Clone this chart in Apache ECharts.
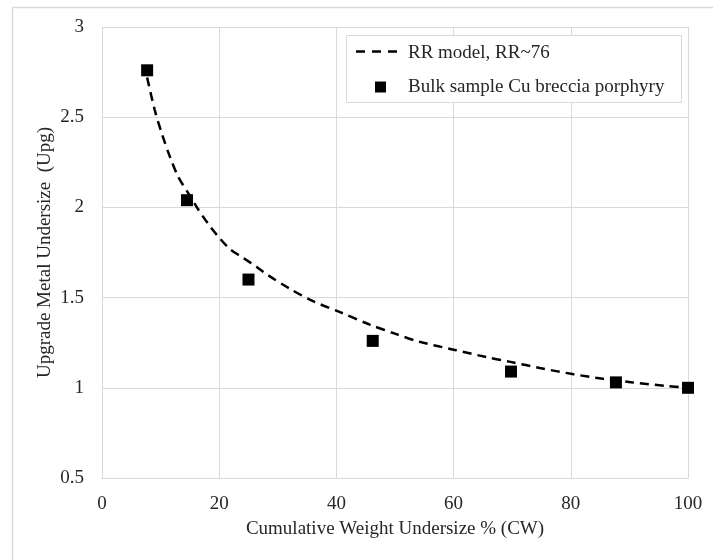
<!DOCTYPE html>
<html>
<head>
<meta charset="utf-8">
<script src="https://cdn.jsdelivr.net/npm/echarts@6/dist/echarts.min.js"></script>
<style>html,body{margin:0;padding:0;background:#fff;}#c{width:713px;height:560px;}</style>
</head>
<body>
<div id="c"></div>
<script>
// Bulk sample data
const sampleCW = [7.7, 14.5, 25.0, 46.2, 69.8, 87.7, 100];
const sampleUpg = [2.76, 2.04, 1.60, 1.26, 1.09, 1.03, 1.0];
// RR model curve
const modelCW = [7.7, 9, 10.2, 11.6, 13, 14.7, 16.4, 18.1, 19.8, 21.8, 24.1, 26.4, 28.3, 32, 36, 40.6, 45.7, 50, 54.2, 60.2, 65.6, 69.5, 74.7, 80.3, 85.5, 90.6, 96.2, 100];
const modelUpg = [2.72, 2.54, 2.41, 2.28, 2.17, 2.08, 1.99, 1.91, 1.84, 1.77, 1.72, 1.67, 1.625, 1.55, 1.48, 1.42, 1.35, 1.30, 1.255, 1.21, 1.17, 1.145, 1.11, 1.076, 1.05, 1.03, 1.01, 1.0];
const xTicks = [0, 20, 40, 60, 80, 100];
const yTicks = [0.5, 1, 1.5, 2, 2.5, 3];
const seriesNames = ['RR model, RR~76', 'Bulk sample Cu breccia porphyry'];
const axisTitles = ['Cumulative Weight Undersize % (CW)', 'Upgrade Metal Undersize  (Upg)'];

const font = '"Liberation Serif", "Times New Roman", serif';
const txt = '#262626';
const chart = echarts.init(document.getElementById('c'), null, {renderer: 'canvas'});
chart.setOption({
  animation: false,
  backgroundColor: '#fff',
  grid: {left: 102, right: 25, top: 27, bottom: 82, containLabel: false},
  xAxis: {
    type: 'value', min: xTicks[0], max: xTicks[xTicks.length - 1], interval: 20,
    name: axisTitles[0], nameLocation: 'middle', nameGap: 42, nameMoveOverlap: false,
    nameTextStyle: {fontFamily: font, fontSize: 19, color: txt},
    axisLine: {show: true, lineStyle: {color: '#d9d9d9', width: 1}},
    axisTick: {show: false},
    axisLabel: {fontFamily: font, fontSize: 19, color: txt, margin: 17},
    splitLine: {show: true, lineStyle: {color: '#d9d9d9', width: 1}}
  },
  yAxis: {
    type: 'value', min: yTicks[0], max: yTicks[yTicks.length - 1], interval: 0.5,
    name: axisTitles[1], nameLocation: 'middle', nameGap: 47, nameMoveOverlap: false,
    nameTextStyle: {fontFamily: font, fontSize: 19, color: txt},
    axisLine: {show: true, lineStyle: {color: '#d9d9d9', width: 1}},
    axisTick: {show: false},
    axisLabel: {fontFamily: font, fontSize: 19, color: txt, margin: 18},
    splitLine: {show: true, lineStyle: {color: '#d9d9d9', width: 1}}
  },
  graphic: [
    {type: 'polyline', silent: true, shape: {points: [[12.5, 600], [12.5, 7.5], [720, 7.5]]}, style: {stroke: '#d9d9d9', lineWidth: 1.5, fill: null}, z: 0},
    {type: 'rect', shape: {x: 346.5, y: 35.5, width: 335, height: 67}, style: {fill: '#fff', stroke: '#d9d9d9', lineWidth: 1}, z: 10},
    {type: 'line', shape: {x1: 356, y1: 51.5, x2: 402, y2: 51.5}, style: {stroke: '#000', lineWidth: 2.5, lineDash: [9, 7]}, z: 11},
    {type: 'rect', shape: {x: 375, y: 81.5, width: 11, height: 11}, style: {fill: '#000'}, z: 11},
    {type: 'text', left: 408, top: 44, style: {text: seriesNames[0], font: '19px ' + font, fill: txt}, z: 11},
    {type: 'text', left: 408, top: 78, style: {text: seriesNames[1], font: '19px ' + font, fill: txt}, z: 11}
  ],
  series: [
    {
      name: seriesNames[0], type: 'line', smooth: 0.3, showSymbol: false, symbol: 'none',
      data: modelCW.map((x, i) => [x, modelUpg[i]]),
      lineStyle: {color: '#000', width: 2.5, type: [9, 6]}, z: 2
    },
    {
      name: seriesNames[1], type: 'scatter', symbol: 'rect', symbolSize: 12,
      data: sampleCW.map((x, i) => [x, sampleUpg[i]]),
      itemStyle: {color: '#000', opacity: 1}, z: 3
    }
  ]
});
</script>
</body>
</html>
